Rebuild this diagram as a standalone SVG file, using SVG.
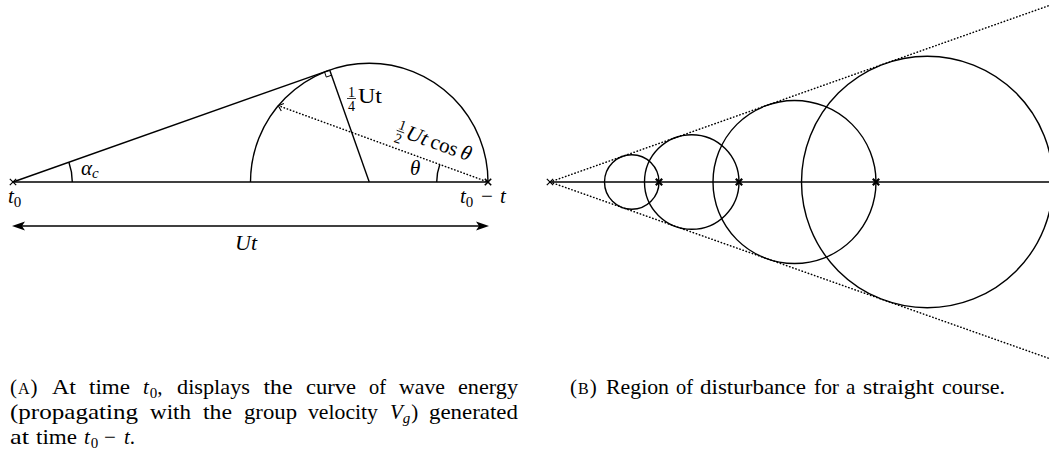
<svg xmlns="http://www.w3.org/2000/svg" width="1049" height="457" viewBox="0 0 1049 457">
<style>
  .ln{fill:none;stroke:#000;stroke-width:1.4}
  .thin{fill:none;stroke:#000;stroke-width:1}
  .dot{fill:none;stroke:#000;stroke-width:1.5;stroke-linecap:round;stroke-dasharray:0.4 2.9}
  .xm{fill:none;stroke:#000;stroke-width:1.2}
  .xb{fill:none;stroke:#000;stroke-width:2.2}
  .ah{fill:#000;stroke:none}
  text{font-family:"Liberation Serif","Times New Roman",serif;font-size:21px;fill:#000}
  .it{font-style:italic}
  .sub{font-size:15px;font-style:normal}
  .subi{font-size:15px;font-style:italic}
  .fr{font-size:14px;font-style:normal}
  .sc{font-size:16px}
</style>
<defs>
  <path id="xmark" d="M-3.2,-3.2L3.2,3.2M-3.2,3.2L3.2,-3.2"/>
</defs>

<g id="panel-a">
  <g id="a-baseline"><line class="ln" x1="13" y1="182" x2="488" y2="182"/></g>
  <g id="a-semicircle"><path class="ln" d="M250.5,182 A118.75,118.75 0 0 1 488,182"/></g>
  <g id="a-points">
    <use href="#xmark" class="xm" x="13" y="182"/>
    <use href="#xmark" class="xm" x="488" y="182" style="stroke-width:1.6"/>
  </g>
  <g id="a-angle-alpha">
    <path class="ln" d="M72.3,182 A59.3,59.3 0 0 0 68.9,162.2"/>
    <text x="81" y="175" class="it">α<tspan class="subi" dy="3">c</tspan></text>
  </g>
  <g id="a-angle-theta">
    <path class="ln" d="M436.7,182 A51.3,51.3 0 0 1 439.8,164.5"/>
    <text x="410" y="175" class="it">θ</text>
  </g>
  <g id="a-right-angle"><path class="thin" d="M324.48,71.87 L326.31,77.06 L331.5,75.23"/></g>
  <g id="a-label-t0"><text x="8" y="203" class="it">t<tspan class="sub" dy="3.5">0</tspan></text></g>
  <g id="a-label-t0t"><text x="460" y="203" class="it">t<tspan class="sub" dy="3.5">0</tspan><tspan dy="-3.5" x="481" style="font-style:normal">−</tspan><tspan x="500">t</tspan></text></g>
  <g id="a-label-quarter">
    <text x="348" y="96.5" class="fr">1</text>
    <line x1="347" y1="98.5" x2="356" y2="98.5" stroke="#000" stroke-width="0.8"/>
    <text x="348" y="110.5" class="fr">4</text>
    <text x="358" y="103" textLength="24" lengthAdjust="spacingAndGlyphs">Ut</text>
  </g>
  <g id="a-label-half" transform="translate(395,135) rotate(19.5)">
    <text x="0.5" y="-7" class="fr">1</text>
    <line x1="0" y1="-5" x2="8" y2="-5" stroke="#000" stroke-width="0.8"/>
    <text x="0.5" y="7" class="fr">2</text>
    <text x="10" y="0" class="it" textLength="22" lengthAdjust="spacingAndGlyphs">Ut</text>
    <text x="36" y="0" textLength="28" lengthAdjust="spacingAndGlyphs">cos</text>
    <text x="68" y="0" class="it">θ</text>
  </g>
  <g id="a-label-Ut"><text x="235" y="250" class="it" textLength="22" lengthAdjust="spacingAndGlyphs">Ut</text></g>
</g>

<g id="connectors">
  <line id="tangent" class="ln" x1="13" y1="182" x2="329.67" y2="70.04"/>
  <line id="radius" class="ln" x1="369.25" y1="182" x2="329.67" y2="70.04"/>
  <g id="chord-arrow">
    <line class="dot" x1="486" y1="181.3" x2="280" y2="106.3"/>
    <path class="ln" style="stroke-width:1.1" d="M281.3,110.9 L278.3,105.7 L283.9,103.6"/>
  </g>
  <g id="Ut-arrow">
    <line class="ln" x1="20" y1="226" x2="481" y2="226"/>
    <path class="ah" d="M12,226 L25,221.5 L22,226 L25,230.5 Z"/>
    <path class="ah" d="M489,226 L476,221.5 L479,226 L476,230.5 Z"/>
  </g>
  <line id="b-envelope-top" class="dot" x1="550" y1="182" x2="1049" y2="5.6"/>
  <line id="b-envelope-bottom" class="dot" x1="550" y1="182" x2="1049" y2="358.4"/>
</g>

<g id="panel-b">
  <g id="b-baseline"><line class="ln" x1="550" y1="182" x2="1049" y2="182"/></g>
  <g id="b-circle-1"><circle class="ln" cx="631.75" cy="182" r="27.25"/></g>
  <g id="b-circle-2"><circle class="ln" cx="691.75" cy="182" r="47.25"/></g>
  <g id="b-circle-3"><circle class="ln" cx="794.5" cy="182" r="81.5"/></g>
  <g id="b-circle-4"><circle class="ln" cx="927.25" cy="182" r="125.75"/></g>
  <g id="b-points">
    <use href="#xmark" class="xm" x="550" y="182"/>
    <use href="#xmark" class="xb" x="659" y="182"/>
    <use href="#xmark" class="xb" x="739" y="182"/>
    <use href="#xmark" class="xb" x="876" y="182"/>
  </g>
</g>

<g id="caption-a">
  <text y="394"><tspan x="10">(</tspan><tspan class="sc" dx="1">A</tspan><tspan dx="1">)</tspan></text>
  <text x="52" y="394" textLength="24" lengthAdjust="spacingAndGlyphs">At</text>
  <text x="89" y="394" textLength="41" lengthAdjust="spacingAndGlyphs">time</text>
  <text x="143" y="394"><tspan class="it">t</tspan><tspan class="sub" dx="1" dy="3.5">0</tspan><tspan dy="-3.5">,</tspan></text>
  <text x="177" y="394" textLength="73" lengthAdjust="spacingAndGlyphs">displays</text>
  <text x="263.5" y="394" textLength="29" lengthAdjust="spacingAndGlyphs">the</text>
  <text x="306" y="394" textLength="50" lengthAdjust="spacingAndGlyphs">curve</text>
  <text x="369" y="394" textLength="17" lengthAdjust="spacingAndGlyphs">of</text>
  <text x="399" y="394" textLength="46" lengthAdjust="spacingAndGlyphs">wave</text>
  <text x="458" y="394" textLength="60" lengthAdjust="spacingAndGlyphs">energy</text>

  <text x="10" y="419" textLength="128" lengthAdjust="spacingAndGlyphs">(propagating</text>
  <text x="150" y="419" textLength="41" lengthAdjust="spacingAndGlyphs">with</text>
  <text x="203" y="419" textLength="29" lengthAdjust="spacingAndGlyphs">the</text>
  <text x="244" y="419" textLength="53" lengthAdjust="spacingAndGlyphs">group</text>
  <text x="308" y="419" textLength="70" lengthAdjust="spacingAndGlyphs">velocity</text>
  <text x="390" y="419"><tspan class="it">V</tspan><tspan class="subi" dy="3.5">g</tspan><tspan dx="1" dy="-3.5">)</tspan></text>
  <text x="429" y="419" textLength="89" lengthAdjust="spacingAndGlyphs">generated</text>

  <text x="10" y="444" textLength="19" lengthAdjust="spacingAndGlyphs">at</text>
  <text x="36" y="444" textLength="41" lengthAdjust="spacingAndGlyphs">time</text>
  <text x="84" y="444"><tspan class="it">t</tspan><tspan class="sub" dx="1" dy="3.5">0</tspan><tspan x="104" dy="-3.5">−</tspan><tspan x="124" class="it">t</tspan><tspan>.</tspan></text>
</g>

<g id="caption-b">
  <text y="394"><tspan x="570">(</tspan><tspan class="sc" dx="1">B</tspan><tspan dx="1">)</tspan></text>
  <text x="606" y="394" textLength="63" lengthAdjust="spacingAndGlyphs">Region</text>
  <text x="676" y="394" textLength="17" lengthAdjust="spacingAndGlyphs">of</text>
  <text x="700" y="394" textLength="106" lengthAdjust="spacingAndGlyphs">disturbance</text>
  <text x="814" y="394" textLength="25" lengthAdjust="spacingAndGlyphs">for</text>
  <text x="846" y="394">a</text>
  <text x="863" y="394" textLength="71" lengthAdjust="spacingAndGlyphs">straight</text>
  <text x="942" y="394" textLength="63" lengthAdjust="spacingAndGlyphs">course.</text>
</g>
</svg>
